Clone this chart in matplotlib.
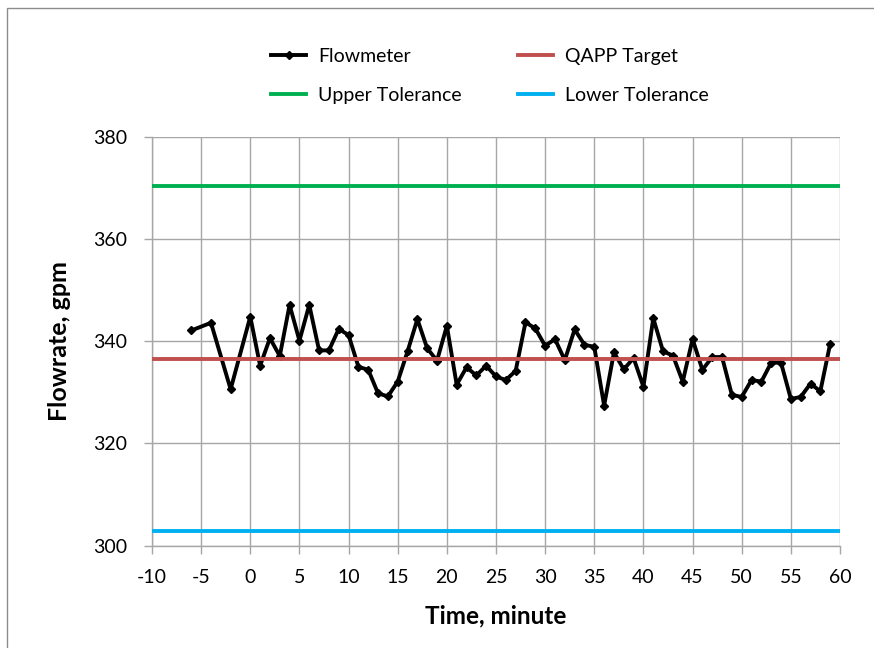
import matplotlib
matplotlib.use("Agg")
import matplotlib.pyplot as plt
from matplotlib.patches import Rectangle

time_min = [-6, -4, -2, 0, 1, 2, 3, 4, 5, 6, 7, 8, 9, 10, 11, 12, 13, 14,
            15, 16, 17, 18, 19, 20, 21, 22, 23, 24, 25, 26, 27, 28, 29, 30,
            31, 32, 33, 34, 35, 36, 37, 38, 39, 40, 41, 42, 43, 44, 45, 46,
            47, 48, 49, 50, 51, 52, 53, 54, 55, 56, 57, 58, 59]
flowmeter = [342.1, 343.6, 330.6, 344.8, 335.2, 340.6, 337.1, 347.1, 340.1, 347.1,
             338.2, 338.2, 342.4, 341.2, 335.0, 334.4, 329.8, 329.2,
             332.1, 338.0, 344.3, 338.6, 336.2, 343.0, 331.5, 334.9, 333.3, 335.2,
             333.1, 332.4, 334.2, 343.7, 342.5, 339.1, 340.4, 336.3, 342.3, 339.3,
             338.9, 327.4, 337.8, 334.5, 336.7, 331.1, 344.5, 338.0, 337.2, 332.1,
             340.4, 334.4, 336.9, 336.9, 329.5, 329.1, 332.4, 332.1, 335.8, 335.8,
             328.7, 329.1, 331.7, 330.2, 339.5]
qapp_target = 336.6
upper_tol = 370.26
lower_tol = 302.94

x_range = [-10, 60]
x_ticks = list(range(-10, 61, 5))
y_ticks = [300, 320, 340, 360, 380]

FONT = ["Lato", "DejaVu Sans"]
plt.rcParams["font.family"] = FONT

fig = plt.figure(figsize=(8.74, 6.48), dpi=100)
ax = fig.add_axes([152/874, 1-545.7/648, (840-152)/874, (545.7-136.7)/648])

# chart border
fig.patches.append(Rectangle((7/874, -0.05), 1.1, 1-8/648+0.05, transform=fig.transFigure,
                             fill=False, edgecolor="#8c8c8c", linewidth=1.0))

ax.plot(x_range, [upper_tol]*2, color="#00B050", lw=2.8, label="Upper Tolerance", zorder=3)
ax.plot(x_range, [lower_tol]*2, color="#00B0F0", lw=2.8, label="Lower Tolerance", zorder=3)
ax.plot(time_min, flowmeter, color="black", lw=2.8, marker="D", markersize=4.5,
        label="Flowmeter", zorder=4)
ax.plot(x_range, [qapp_target]*2, color="#C0504D", lw=2.8, label="QAPP Target", zorder=5)

ax.set_xlim(*x_range)
ax.set_ylim(300, 380)
ax.set_xticks(x_ticks)
ax.set_yticks(y_ticks)
ax.set_xticklabels([str(t) for t in x_ticks])
ax.grid(True, color="#A6A6A6", lw=1.0)
ax.set_axisbelow(True)
for side in ["top", "right"]:
    ax.spines[side].set_visible(False)
for side in ["left", "bottom"]:
    ax.spines[side].set_color("#A6A6A6")
    ax.spines[side].set_linewidth(1.0)
ax.tick_params(axis="both", colors="#A6A6A6", labelcolor="black", labelsize=14,
               width=1.0, length=6)
ax.tick_params(axis="x", pad=11)
ax.tick_params(axis="y", pad=12)
ax.set_xlabel("Time, minute", fontsize=17.5, fontweight="bold", labelpad=13)
ax.set_ylabel("Flowrate, gpm", fontsize=18, fontweight="bold", labelpad=16)

h, l = ax.get_legend_handles_labels()
order = [2, 0, 3, 1]
fig.legend([h[i] for i in order], [l[i] for i in order], ncol=2, frameon=False,
           loc="center", bbox_to_anchor=(490/874, 1-76/648), fontsize=14,
           handlelength=1.8, columnspacing=2.9, labelspacing=1.15, handletextpad=0.6)

fig.savefig("out.png", dpi=100)
